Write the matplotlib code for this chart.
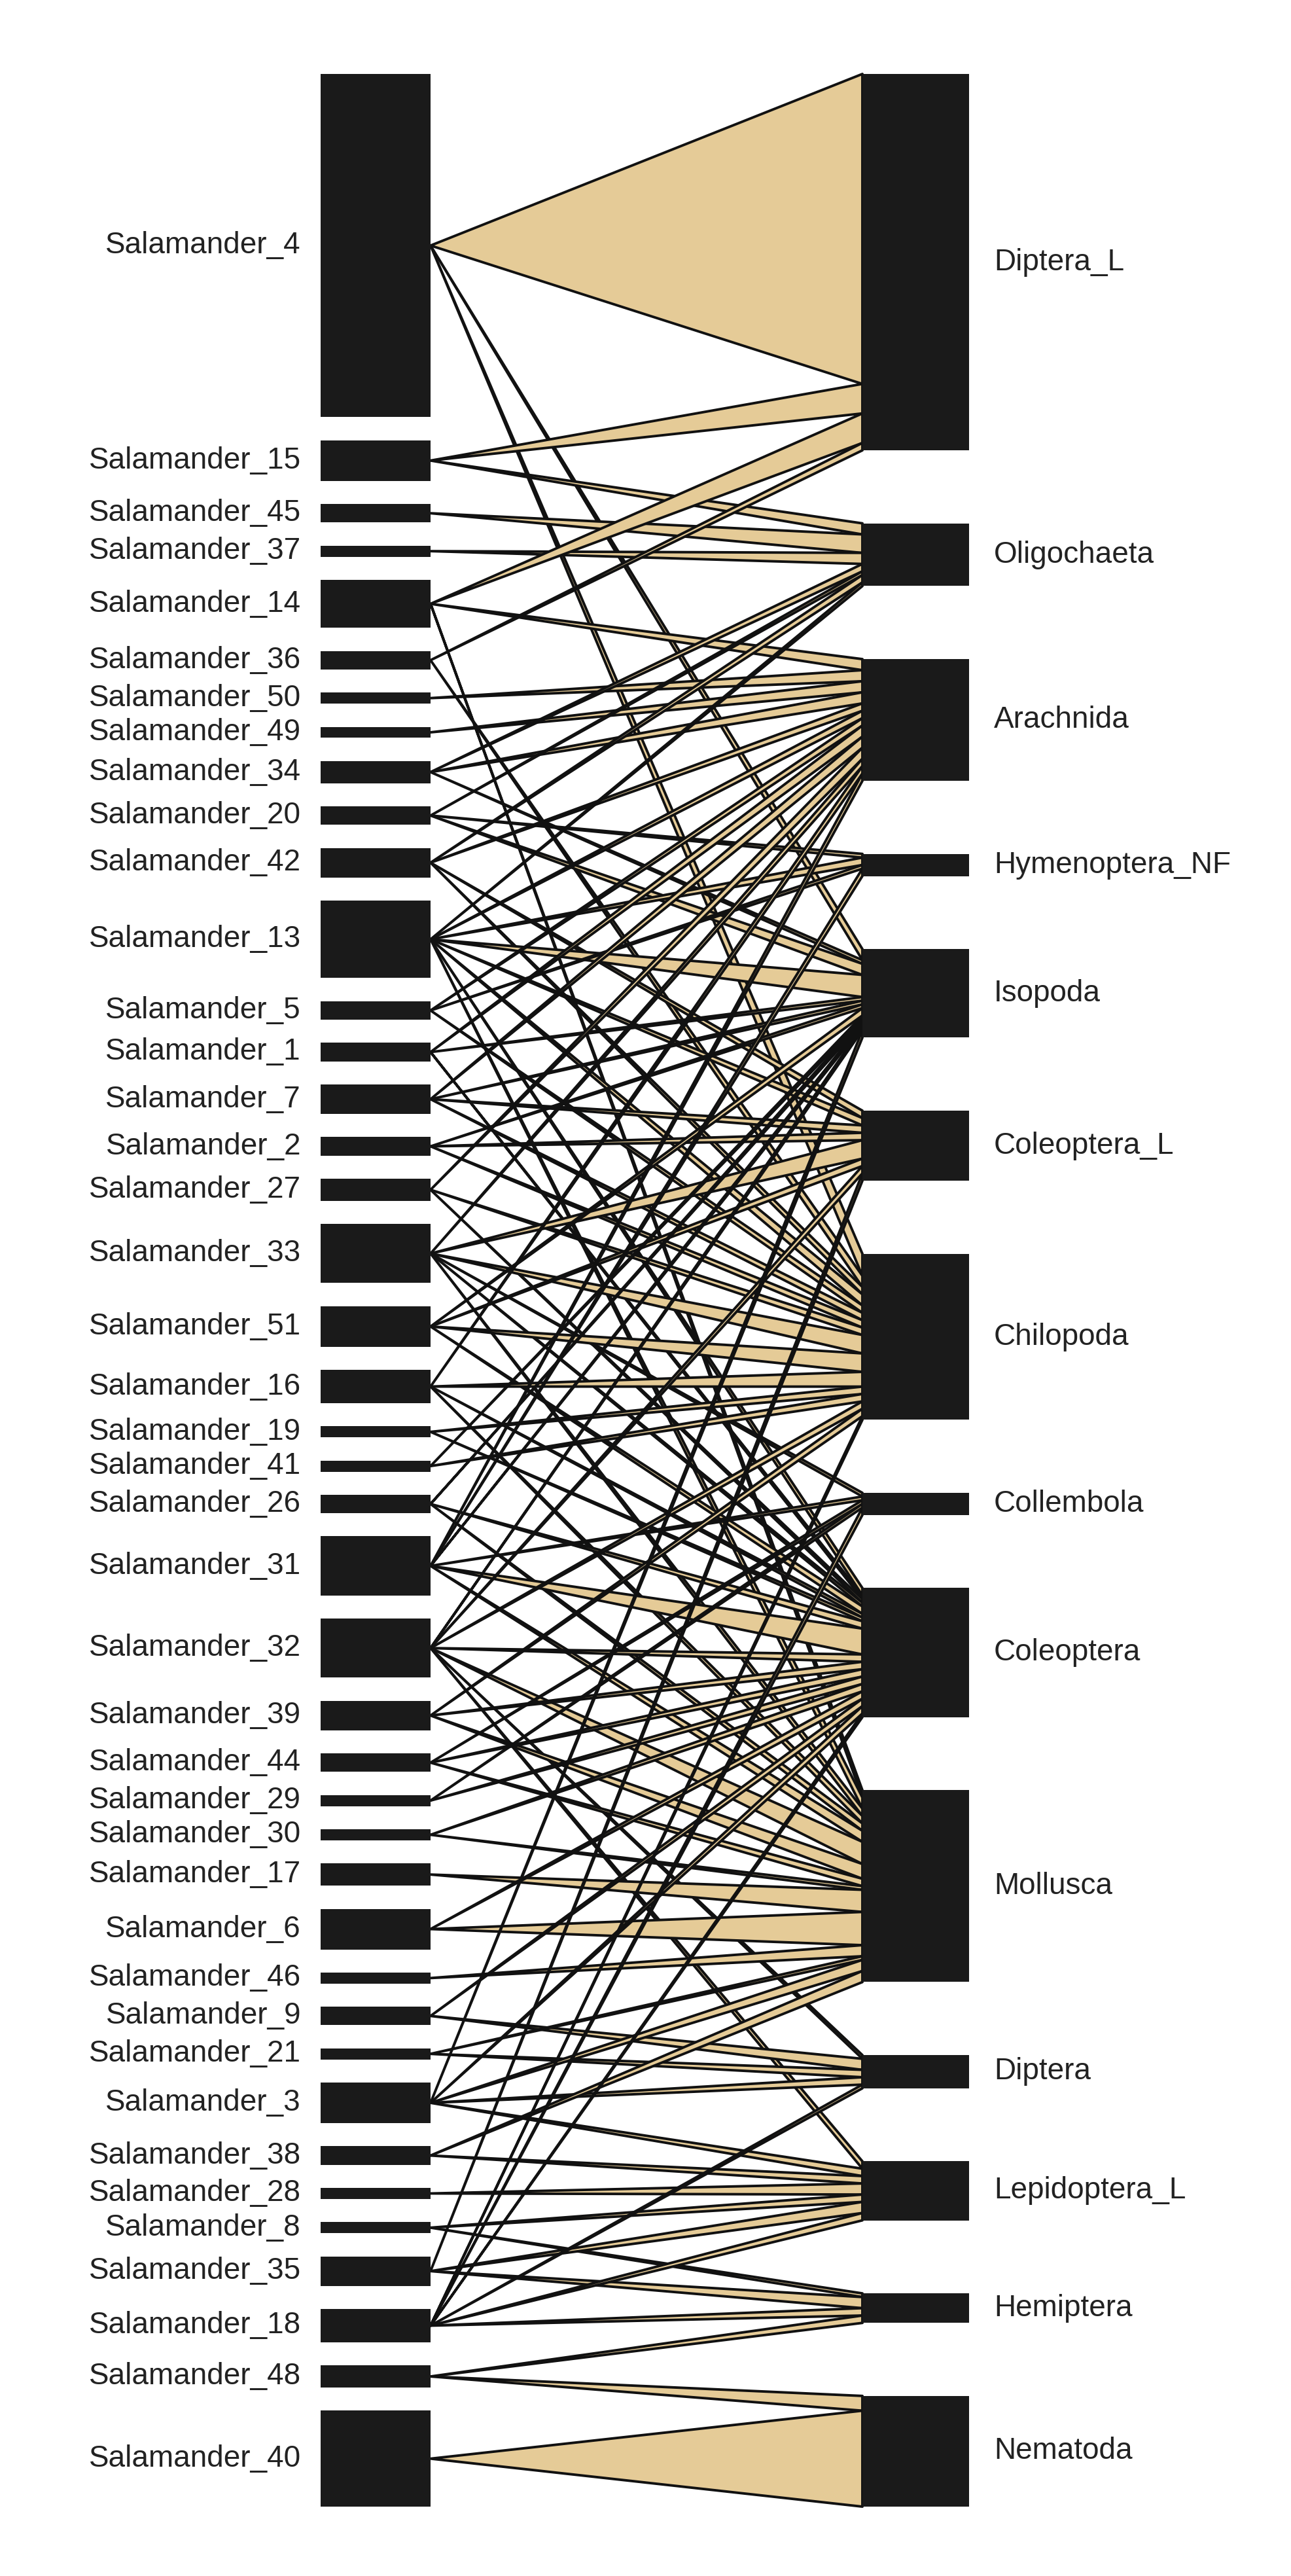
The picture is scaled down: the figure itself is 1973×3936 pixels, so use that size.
import matplotlib
matplotlib.use("Agg")
import matplotlib.pyplot as plt
from matplotlib.patches import Polygon, Rectangle
import numpy as np
import pandas as pd

plt.rcParams['font.family'] = ['Liberation Sans', 'DejaVu Sans']

# lower level (predators), top to bottom
salamanders = [4, 15, 45, 37, 14, 36, 50, 49, 34, 20, 42, 13, 5, 1, 7, 2, 27, 33,
               51, 16, 19, 41, 26, 31, 32, 39, 44, 29, 30, 17, 6, 46, 9, 21, 3,
               38, 28, 8, 35, 18, 48, 40]

# higher level (prey), top to bottom
prey = ['Diptera_L', 'Oligochaeta', 'Arachnida', 'Hymenoptera_NF', 'Isopoda',
        'Coleoptera_L', 'Chilopoda', 'Collembola', 'Coleoptera', 'Mollusca',
        'Diptera', 'Lepidoptera_L', 'Hemiptera', 'Nematoda']

# interactions: salamander, prey, count
link_sal = [4, 4, 4,  15, 15,  45,  37,  14, 14, 14,  36, 36,  50,  49,
            34, 34, 34,  20, 20, 20,  42, 42, 42, 42,
            13, 13, 13, 13, 13, 13, 13, 13,  5, 5, 5,  1, 1, 1,  7, 7, 7, 7,
            2, 2, 2,  27, 27, 27,  33, 33, 33, 33, 33, 33,  51, 51, 51, 51,
            16, 16, 16, 16,  19, 19,  41, 41,  26, 26, 26,
            31, 31, 31, 31, 31, 31,  32, 32, 32, 32, 32, 32, 32,
            39, 39, 39,  44, 44, 44,  29, 29,  30, 30,  17,  6, 6,  46,
            9, 9,  21, 21,  3, 3, 3, 3, 3,  38, 38,  28,  8, 8,  35, 35, 35,
            18, 18, 18, 18, 18, 18,  48, 48,  40]
link_prey = ['Diptera_L', 'Isopoda', 'Chilopoda',
             'Diptera_L', 'Oligochaeta',
             'Oligochaeta',
             'Oligochaeta',
             'Diptera_L', 'Arachnida', 'Mollusca',
             'Diptera_L', 'Chilopoda',
             'Arachnida',
             'Arachnida',
             'Oligochaeta', 'Arachnida', 'Isopoda',
             'Oligochaeta', 'Hymenoptera_NF', 'Isopoda',
             'Oligochaeta', 'Arachnida', 'Coleoptera_L', 'Chilopoda',
             'Oligochaeta', 'Arachnida', 'Hymenoptera_NF', 'Isopoda',
             'Coleoptera_L', 'Chilopoda', 'Coleoptera', 'Mollusca',
             'Arachnida', 'Hymenoptera_NF', 'Chilopoda',
             'Arachnida', 'Isopoda', 'Coleoptera',
             'Arachnida', 'Isopoda', 'Coleoptera_L', 'Chilopoda',
             'Isopoda', 'Coleoptera_L', 'Chilopoda',
             'Arachnida', 'Chilopoda', 'Coleoptera',
             'Arachnida', 'Coleoptera_L', 'Chilopoda', 'Collembola', 'Coleoptera', 'Mollusca',
             'Isopoda', 'Coleoptera_L', 'Chilopoda', 'Coleoptera',
             'Arachnida', 'Chilopoda', 'Coleoptera', 'Mollusca',
             'Chilopoda', 'Coleoptera',
             'Isopoda', 'Chilopoda',
             'Isopoda', 'Coleoptera', 'Mollusca',
             'Arachnida', 'Hymenoptera_NF', 'Isopoda', 'Collembola', 'Coleoptera', 'Mollusca',
             'Isopoda', 'Coleoptera_L', 'Chilopoda', 'Coleoptera', 'Mollusca', 'Diptera', 'Lepidoptera_L',
             'Chilopoda', 'Coleoptera', 'Mollusca',
             'Collembola', 'Coleoptera', 'Mollusca',
             'Collembola', 'Coleoptera',
             'Coleoptera', 'Mollusca',
             'Mollusca',
             'Coleoptera', 'Mollusca',
             'Mollusca',
             'Coleoptera', 'Diptera',
             'Mollusca', 'Diptera',
             'Isopoda', 'Coleoptera', 'Mollusca', 'Diptera', 'Lepidoptera_L',
             'Mollusca', 'Lepidoptera_L',
             'Lepidoptera_L',
             'Lepidoptera_L', 'Hemiptera',
             'Coleoptera_L', 'Lepidoptera_L', 'Hemiptera',
             'Chilopoda', 'Collembola', 'Coleoptera', 'Diptera', 'Lepidoptera_L', 'Hemiptera',
             'Hemiptera', 'Nematoda',
             'Nematoda']
link_n = [84, 3, 6,  8, 3,  5,  3,  8, 3, 2,  2, 3,  3,  3,
          2, 3, 1,  1, 1, 3,  2, 2, 2, 2,
          1, 2, 2, 6, 2, 3, 2, 3,  2, 1, 2,  3, 1, 1,  3, 1, 2, 2,
          1, 2, 2,  3, 2, 1,  2, 5, 5, 1, 1, 2,  2, 2, 5, 2,
          2, 4, 1, 2,  2, 1,  1, 2,  1, 2, 2,
          2, 2, 1, 1, 7, 3,  1, 2, 2, 2, 6, 1, 2,
          2, 2, 4,  1, 2, 2,  1, 2,  2, 1,  6,  2, 9,  3,
          2, 3,  1, 2,  2, 2, 3, 2, 2,  3, 2,  3,  2, 1,  2, 3, 3,
          1, 2, 1, 1, 2, 2,  2, 4,  26]

web = pd.DataFrame({'sal': link_sal, 'prey': link_prey, 'n': link_n})
mat = web.pivot_table(index='sal', columns='prey', values='n', aggfunc='sum', fill_value=0)
mat = mat.reindex(index=salamanders, columns=prey, fill_value=0).values.astype(float)

low = mat.sum(axis=1)
high = mat.sum(axis=0)
total = low.sum()

# layout (pixels of the output image)
top, bottom = 113, 3830
low_x0, low_x1 = 490, 658
high_x0, high_x1 = 1318, 1481
space = 0.64
span = total * (1 + space)
k = (bottom - top) / span
gap_low = (span - total) / (len(low) - 1)
gap_high = (span - total) / (len(high) - 1)

low_y0 = top + k * (np.concatenate([[0], np.cumsum(low)[:-1]]) + gap_low * np.arange(len(low)))
high_y0 = top + k * (np.concatenate([[0], np.cumsum(high)[:-1]]) + gap_high * np.arange(len(high)))
low_mid = low_y0 + k * low / 2
high_mid = high_y0 + k * high / 2

# stacking of links inside each prey box follows salamander order
stack = np.vstack([np.zeros(len(prey)), np.cumsum(mat, axis=0)[:-1]])

fig = plt.figure(figsize=(19.74, 39.36), dpi=100)
ax = fig.add_axes([0, 0, 1, 1])
ax.set_xlim(0, 1974)
ax.set_ylim(3936, 0)
ax.axis('off')

tan = '#E5CB97'
box = '#1a1a1a'

for i in range(len(salamanders)):
    for j in range(len(prey)):
        if mat[i, j] == 0:
            continue
        y1 = high_y0[j] + k * stack[i, j]
        y2 = y1 + k * mat[i, j]
        ax.add_patch(Polygon([(low_x1, low_mid[i]), (high_x0, y1), (high_x0, y2)],
                             closed=True, facecolor=tan, edgecolor='#111111',
                             linewidth=2.8, joinstyle='round', zorder=1))

for i, s in enumerate(salamanders):
    ax.add_patch(Rectangle((low_x0, low_y0[i]), low_x1 - low_x0, k * low[i],
                           facecolor=box, edgecolor='none', zorder=2))
    ax.text(460, low_mid[i], f'Salamander_{s}', ha='right', va='center',
            fontsize=33, color='#222222')

for j, p in enumerate(prey):
    ax.add_patch(Rectangle((high_x0, high_y0[j]), high_x1 - high_x0, k * high[j],
                           facecolor=box, edgecolor='none', zorder=2))
    ax.text(1519, high_mid[j], p, ha='left', va='center', fontsize=33, color='#222222')

fig.savefig('out.png', dpi=100, facecolor='white')
